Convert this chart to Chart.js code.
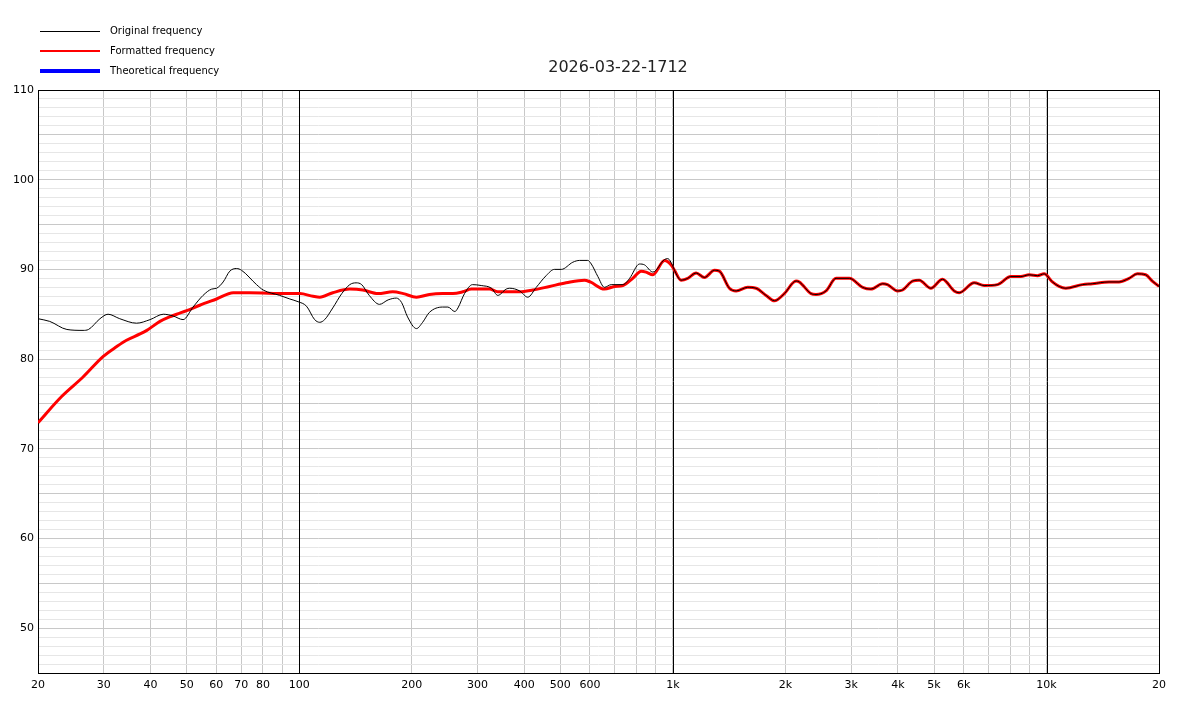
<!DOCTYPE html>
<html>
<head>
<meta charset="utf-8">
<script src="https://cdn.jsdelivr.net/npm/chart.js@4.4.1/dist/chart.umd.min.js"></script>
<style>
  body { margin: 0; background: #fff; }
  #wrap { width: 1200px; height: 705px; }
</style>
</head>
<body>
<div id="wrap"><canvas id="fr" width="1200" height="705"></canvas></div>
<script>
const chartTitle = '2026-03-22-1712';

// measured curve below ~1 kHz (Hz / dB)
const origFreq = [20, 21.5, 23.9, 26.4, 27.3, 29.3, 30.8, 33.1, 36.7, 39.9, 43.3, 46, 48.9, 52, 55.3, 58.3, 60.1, 62.6, 65.2, 68, 70.1, 76.9, 80.1, 88.7, 94.4, 99.3, 104.6, 110, 113.5, 117, 123, 130, 136.6, 142, 147, 154, 164, 173, 182, 188, 195, 206, 214, 223, 242, 250, 261, 266, 277, 291, 307, 327, 340, 358, 366, 389, 409, 431, 458, 482, 503, 540, 563, 592, 605, 630, 656, 684, 735, 766, 814, 840, 884, 950, 969, 999];
const origDb = [84.5, 84.2, 83.3, 83.2, 83.3, 84.5, 85.0, 84.5, 84.0, 84.4, 85.0, 84.8, 84.4, 85.8, 87.1, 87.8, 87.9, 88.6, 89.8, 90.1, 89.9, 88.3, 87.7, 87.1, 86.7, 86.4, 85.9, 84.4, 84.1, 84.4, 85.7, 87.3, 88.3, 88.5, 88.3, 87.1, 86.1, 86.6, 86.8, 86.3, 84.7, 83.4, 84.1, 85.2, 85.8, 85.8, 85.3, 85.7, 87.3, 88.3, 88.2, 87.9, 87.1, 87.8, 87.9, 87.6, 86.9, 88.0, 89.3, 90.0, 90.0, 90.8, 91.0, 91.0, 90.6, 89.2, 88.0, 88.3, 88.3, 89.0, 90.6, 90.5, 89.7, 91.1, 91.2, 90.4];

// formatted curve below ~1 kHz
const fmtFreq = [20, 23.1, 26.4, 29.9, 32.5, 34.5, 37.5, 39.1, 42.4, 45, 47, 50, 54.2, 60.1, 66.6, 73.8, 92.5, 100.4, 108.9, 113.5, 123, 136.6, 148, 162.5, 178, 190, 206, 223, 242, 258, 274, 289, 323, 340, 389, 422, 468, 518, 580, 601, 656, 698, 735, 781, 823, 848, 884, 950, 990];
const fmtDb = [72.9, 75.8, 78.0, 80.3, 81.4, 82.1, 82.8, 83.2, 84.2, 84.7, 85.0, 85.4, 86.0, 86.7, 87.4, 87.4, 87.3, 87.3, 87.0, 86.9, 87.4, 87.8, 87.7, 87.3, 87.5, 87.3, 86.9, 87.2, 87.3, 87.3, 87.5, 87.8, 87.8, 87.5, 87.5, 87.7, 88.1, 88.5, 88.8, 88.6, 87.8, 88.1, 88.2, 89.0, 89.8, 89.7, 89.4, 91.0, 90.5];

// above 1 kHz both curves are the same
const hiFreq = [1010, 1052, 1096, 1154, 1215, 1292, 1332, 1417, 1477, 1586, 1670, 1776, 1869, 1988, 2136, 2180, 2343, 2416, 2570, 2733, 2967, 3220, 3390, 3641, 3754, 3993, 4118, 4380, 4564, 4903, 5268, 5661, 5840, 6403, 6810, 7392, 8026, 8536, 8985, 9456, 9854, 10370, 10806, 11262, 12472, 13262, 14700, 15632, 16630, 17500, 18426, 19190, 20000];
const hiDb = [89.9, 88.8, 89.0, 89.6, 89.1, 89.9, 89.8, 87.9, 87.6, 88.0, 87.9, 87.1, 86.5, 87.3, 88.7, 88.6, 87.3, 87.2, 87.6, 89.0, 89.0, 88.0, 87.8, 88.4, 88.3, 87.6, 87.7, 88.7, 88.8, 87.9, 88.9, 87.6, 87.4, 88.5, 88.2, 88.3, 89.2, 89.2, 89.4, 89.3, 89.5, 88.6, 88.1, 87.9, 88.3, 88.4, 88.6, 88.6, 89.0, 89.5, 89.4, 88.7, 88.1];

const theoFreq = [];
const theoDb = [];

const xTickValues = [20, 30, 40, 50, 60, 70, 80, 100, 200, 300, 400, 500, 600, 1000, 2000, 3000, 4000, 5000, 6000, 10000, 20000];
const xTickLabels = ['20', '30', '40', '50', '60', '70', '80', '100', '200', '300', '400', '500', '600', '1k', '2k', '3k', '4k', '5k', '6k', '10k', '20'];
const xDecades = [100, 1000, 10000];
const yTickValues = [50, 60, 70, 80, 90, 100, 110];

function pts(fs, ds) {
  return fs.map((f, i) => ({ x: f, y: ds[i] }));
}

// log grid: 1..9 per decade
const xGrid = [];
for (let d = 10; d <= 10000; d *= 10) {
  for (let m = 1; m <= 9; m++) {
    const v = d * m;
    if (v >= 20 && v <= 20000) xGrid.push(v);
  }
}

const decorPlugin = {
  id: 'decor',
  beforeDatasetsDraw(chart) {
    const { ctx, chartArea: a } = chart;
    const xs = chart.scales.x;
    ctx.save();
    ctx.strokeStyle = '#000';
    ctx.lineWidth = 1;
    // decade lines on top of the grid
    xDecades.forEach(v => {
      const px = Math.round(xs.getPixelForValue(v)) + 0.5;
      ctx.beginPath();
      ctx.moveTo(px, a.top);
      ctx.lineTo(px, a.bottom);
      ctx.stroke();
    });
    ctx.strokeRect(a.left + 0.5, a.top + 0.5, a.right - a.left, a.bottom - a.top);
    ctx.restore();
  },
  afterDraw(chart) {
    const ctx = chart.ctx;
    ctx.save();
    ctx.fillStyle = '#222';
    ctx.font = '16px "DejaVu Sans"';
    ctx.textAlign = 'center';
    ctx.textBaseline = 'middle';
    ctx.fillText(chartTitle, 618, 68);

    ctx.font = '10px "DejaVu Sans"';
    ctx.textAlign = 'left';
    chart.data.datasets.forEach((ds, i) => {
      const y = 31 + i * 20;
      const off = ds.legendWidth % 2 ? 0.5 : 0;
      ctx.strokeStyle = ds.borderColor;
      ctx.lineWidth = ds.legendWidth;
      ctx.beginPath();
      ctx.moveTo(40, y + off);
      ctx.lineTo(100, y + off);
      ctx.stroke();
      ctx.fillStyle = '#000';
      ctx.fillText(ds.label, 110, y);
    });
    ctx.restore();
  }
};

new Chart(document.getElementById('fr'), {
  type: 'line',
  data: {
    datasets: [{
      label: 'Original frequency',
      data: pts(origFreq.concat(hiFreq), origDb.concat(hiDb)),
      borderColor: '#000000',
      borderWidth: 1,
      legendWidth: 1
    }, {
      label: 'Formatted frequency',
      data: pts(fmtFreq.concat(hiFreq), fmtDb.concat(hiDb)),
      borderColor: '#ff0000',
      borderWidth: 3,
      legendWidth: 2
    }, {
      label: 'Theoretical frequency',
      data: pts(theoFreq, theoDb),
      borderColor: '#0000ff',
      borderWidth: 4,
      legendWidth: 4
    }]
  },
  options: {
    responsive: false,
    animation: false,
    events: [],
    cubicInterpolationMode: 'monotone',
    elements: { point: { radius: 0 } },
    layout: { padding: { left: 0, right: 41, top: 90, bottom: 0 } },
    plugins: {
      legend: { display: false },
      title: { display: false },
      tooltip: { enabled: false }
    },
    scales: {
      x: {
        type: 'logarithmic',
        min: 20,
        max: 20000,
        afterBuildTicks: s => { s.ticks = xGrid.map(v => ({ value: v })); },
        afterFit: s => { s.height = 32; },
        border: { display: false },
        grid: {
          drawTicks: false,
          color: '#c8c8c8'
        },
        ticks: {
          autoSkip: false,
          maxRotation: 0,
          padding: 6,
          color: '#000',
          font: { family: 'DejaVu Sans', size: 11 },
          callback: v => {
            const i = xTickValues.indexOf(v);
            return i < 0 ? '' : xTickLabels[i];
          }
        }
      },
      y: {
        min: 45,
        max: 110,
        afterFit: s => { s.width = 38; },
        border: { display: false },
        grid: {
          drawTicks: false,
          color: c => (c.tick.value % 5 === 0 ? '#c8c8c8' : '#e6e6e6')
        },
        ticks: {
          stepSize: 1,
          autoSkip: false,
          padding: 4,
          color: '#000',
          font: { family: 'DejaVu Sans', size: 11 },
          callback: v => (yTickValues.includes(v) ? String(v) : '')
        }
      }
    }
  },
  plugins: [decorPlugin]
});
</script>
</body>
</html>
